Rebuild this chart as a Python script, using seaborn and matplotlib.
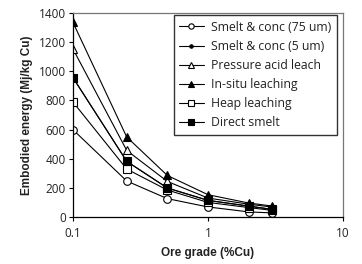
import matplotlib
matplotlib.use("Agg")
import matplotlib.pyplot as plt
import seaborn as sns
import pandas as pd
import numpy as np

grades = [0.1, 0.25, 0.5, 1, 2, 3]
smelt_75 = [599, 247, 126, 69, 35, 28]
smelt_5 = [956, 382, 199, 114, 75, 52]
pressure_acid = [1153, 457, 244, 130, 88, 68]
in_situ = [1335, 549, 285, 153, 96, 75]
heap = [789, 329, 185, 100, 65, 45]
direct_smelt = [956, 382, 199, 114, 75, 52]

series = [
    ("Smelt & conc (75 um)", smelt_75, "o", "white", 5.5),
    ("Smelt & conc (5 um)", smelt_5, "o", "black", 3.5),
    ("Pressure acid leach", pressure_acid, "^", "white", 6),
    ("In-situ leaching", in_situ, "^", "black", 5.5),
    ("Heap leaching", heap, "s", "white", 5.5),
    ("Direct smelt", direct_smelt, "s", "black", 5.5),
]

rows = []
for name, vals, *_ in series:
    for g, v in zip(grades, vals):
        rows.append({"grade": g, "energy": v, "series": name})
df = pd.DataFrame(rows)

sns.set_theme(style="white")
plt.rcParams['font.family'] = ['Open Sans', 'DejaVu Sans']

fig = plt.figure(figsize=(3.62, 2.64), dpi=100)
ax = fig.add_axes([73/362, 1-217/264, 270/362, 204/264])

for name, vals, m, fc, ms in series:
    sub = df[df["series"] == name]
    sns.lineplot(data=sub, x="grade", y="energy", ax=ax, color="black",
                 linewidth=0.8, marker=m, markersize=ms, markerfacecolor=fc,
                 markeredgecolor="black", markeredgewidth=0.8, label=name)

ax.set_xscale("log")
ax.set_xlim(0.1, 10)
ax.set_ylim(0, 1400)
ax.set_yticks(range(0, 1401, 200))
ax.set_xticks([0.1, 1, 10])
ax.set_xticklabels(["0.1", "1", "10"])
ax.xaxis.set_minor_locator(matplotlib.ticker.NullLocator())
ax.tick_params(axis="both", labelsize=8.5, length=3, width=0.8, color="black",
               direction="out", bottom=True, left=True, pad=2, labelcolor="#222222")
ax.tick_params(axis="x", pad=4)
for s in ["left", "bottom"]:
    ax.spines[s].set_color("black")
    ax.spines[s].set_linewidth(0.9)
for s in ["top", "right"]:
    ax.spines[s].set_color("#777777")
    ax.spines[s].set_linewidth(0.9)

ax.set_xlabel("Ore grade (%Cu)", fontsize=8.5, fontweight="bold",
              family=["Liberation Sans"], labelpad=5, color="#222222")
ax.set_ylabel("Embodied energy (Mj/kg Cu)", fontsize=8.5, fontweight="bold",
              family=["Liberation Sans"], labelpad=4, color="#222222")

leg = ax.legend(loc="upper right", bbox_to_anchor=(0.977, 0.989), fontsize=8.8,
                frameon=True, fancybox=False, edgecolor="black", borderaxespad=0,
                handlelength=2.0, labelspacing=0.5, borderpad=0.45,
                handletextpad=0.6, markerscale=0.7)
leg.get_frame().set_linewidth(1.0)
for t in leg.get_texts():
    t.set_color("#222222")

fig.savefig("out.png", dpi=100)
